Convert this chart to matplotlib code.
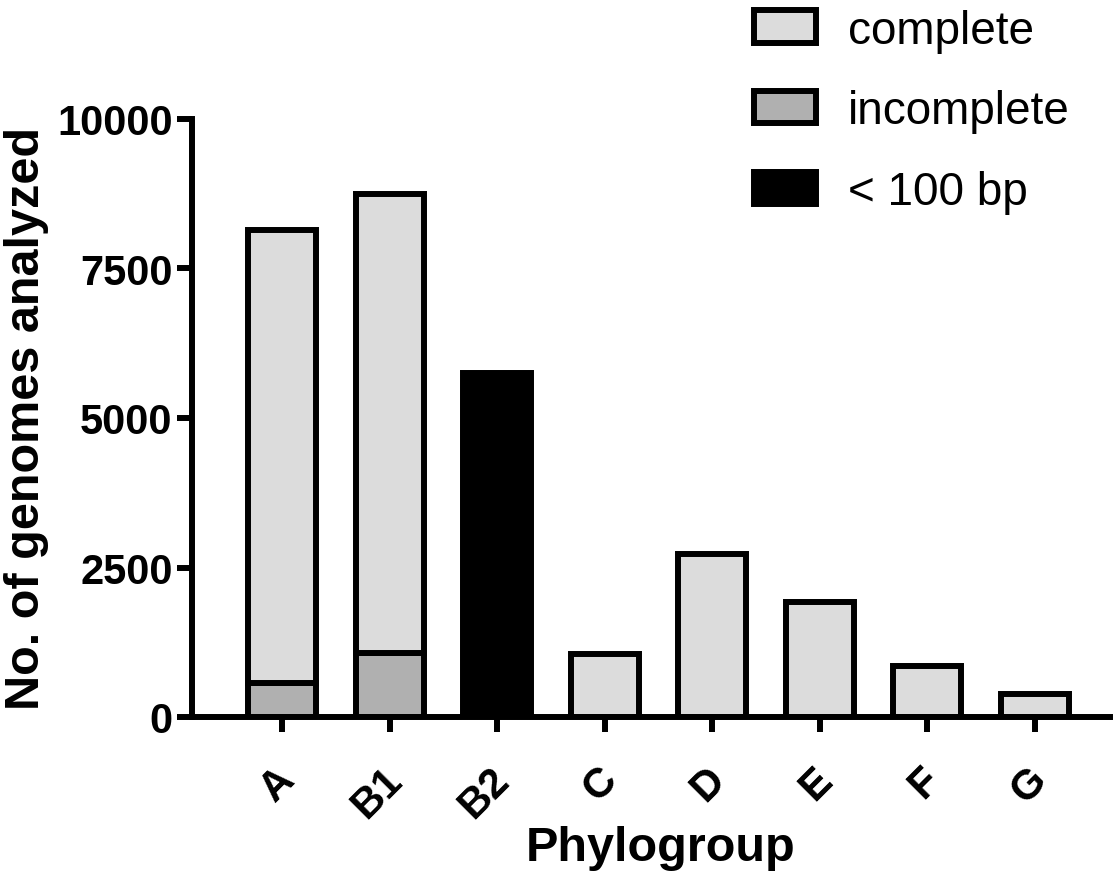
import matplotlib
matplotlib.use("Agg")
import matplotlib.pyplot as plt
import matplotlib.transforms as mtransforms
import numpy as np
from matplotlib.patches import Patch

categories = ["A", "B1", "B2", "C", "D", "E", "F", "G"]
lt100 = [0, 0, 5750, 0, 0, 0, 0, 0]
incomplete = [570, 1070, 0, 0, 0, 0, 0, 0]
complete = [7580, 7680, 0, 1050, 2720, 1930, 860, 390]
series_labels = ["complete", "incomplete", "< 100 bp"]
colors = ["#dcdcdc", "#b0b0b0", "#000000"]

plt.rcParams['font.family'] = ['Liberation Sans', 'DejaVu Sans']

fig = plt.figure(figsize=(11.17, 8.79), dpi=100)
ax = fig.add_axes([192/1117, 1-718/879, (1110-192)/1117, (718-120)/879])

x = np.arange(len(categories))
w = 0.63
lw = 4.3
b1 = ax.bar(x, lt100, w, color=colors[2], edgecolor="black", linewidth=lw, zorder=2)
b2 = ax.bar(x, incomplete, w, bottom=lt100, color=colors[1], edgecolor="black", linewidth=lw, zorder=2)
bottom2 = np.array(lt100) + np.array(incomplete)
b3 = ax.bar(x, complete, w, bottom=bottom2, color=colors[0], edgecolor="black", linewidth=lw, zorder=2)
for bars, vals in ((b1, lt100), (b2, incomplete), (b3, complete)):
    for r, v in zip(bars, vals):
        if v == 0:
            r.set_visible(False)

ax.set_xlim(-0.84, 7.7)
ax.set_ylim(0, 10000)
ax.set_yticks([0, 2500, 5000, 7500, 10000])
ax.set_xticks(x)
ax.set_xticklabels(categories, rotation=45, ha="right", rotation_mode="anchor")
for s in ("top", "right"):
    ax.spines[s].set_visible(False)
for s in ("left", "bottom"):
    ax.spines[s].set_linewidth(lw)
    ax.spines[s].set_zorder(3)
ax.tick_params(axis="both", width=lw, length=11, labelsize=30)
ax.tick_params(axis="x", pad=18)
ax.tick_params(axis="y", pad=3)
offset = mtransforms.ScaledTranslation(-8/100, -2/100, fig.dpi_scale_trans)
for t in ax.get_xticklabels():
    t.set_fontweight("bold")
    t.set_transform(t.get_transform() + offset)
for t in ax.get_yticklabels():
    t.set_fontweight("bold")
ax.set_ylabel("No. of genomes analyzed", fontsize=35, fontweight="bold", labelpad=6)
ax.set_xlabel("Phylogroup", fontsize=35, fontweight="bold")
ax.xaxis.set_label_coords(0.51, -0.181)

handles = [Patch(facecolor=c, edgecolor="black", linewidth=lw) for c in colors]
leg = fig.legend(handles, series_labels, loc="upper left", bbox_to_anchor=(736/1117, 1.01),
                 frameon=False, fontsize=33, handlelength=1.35, handleheight=0.7,
                 labelspacing=0.8, handletextpad=0.7, borderaxespad=0)

fig.savefig("out.png", dpi=100)
